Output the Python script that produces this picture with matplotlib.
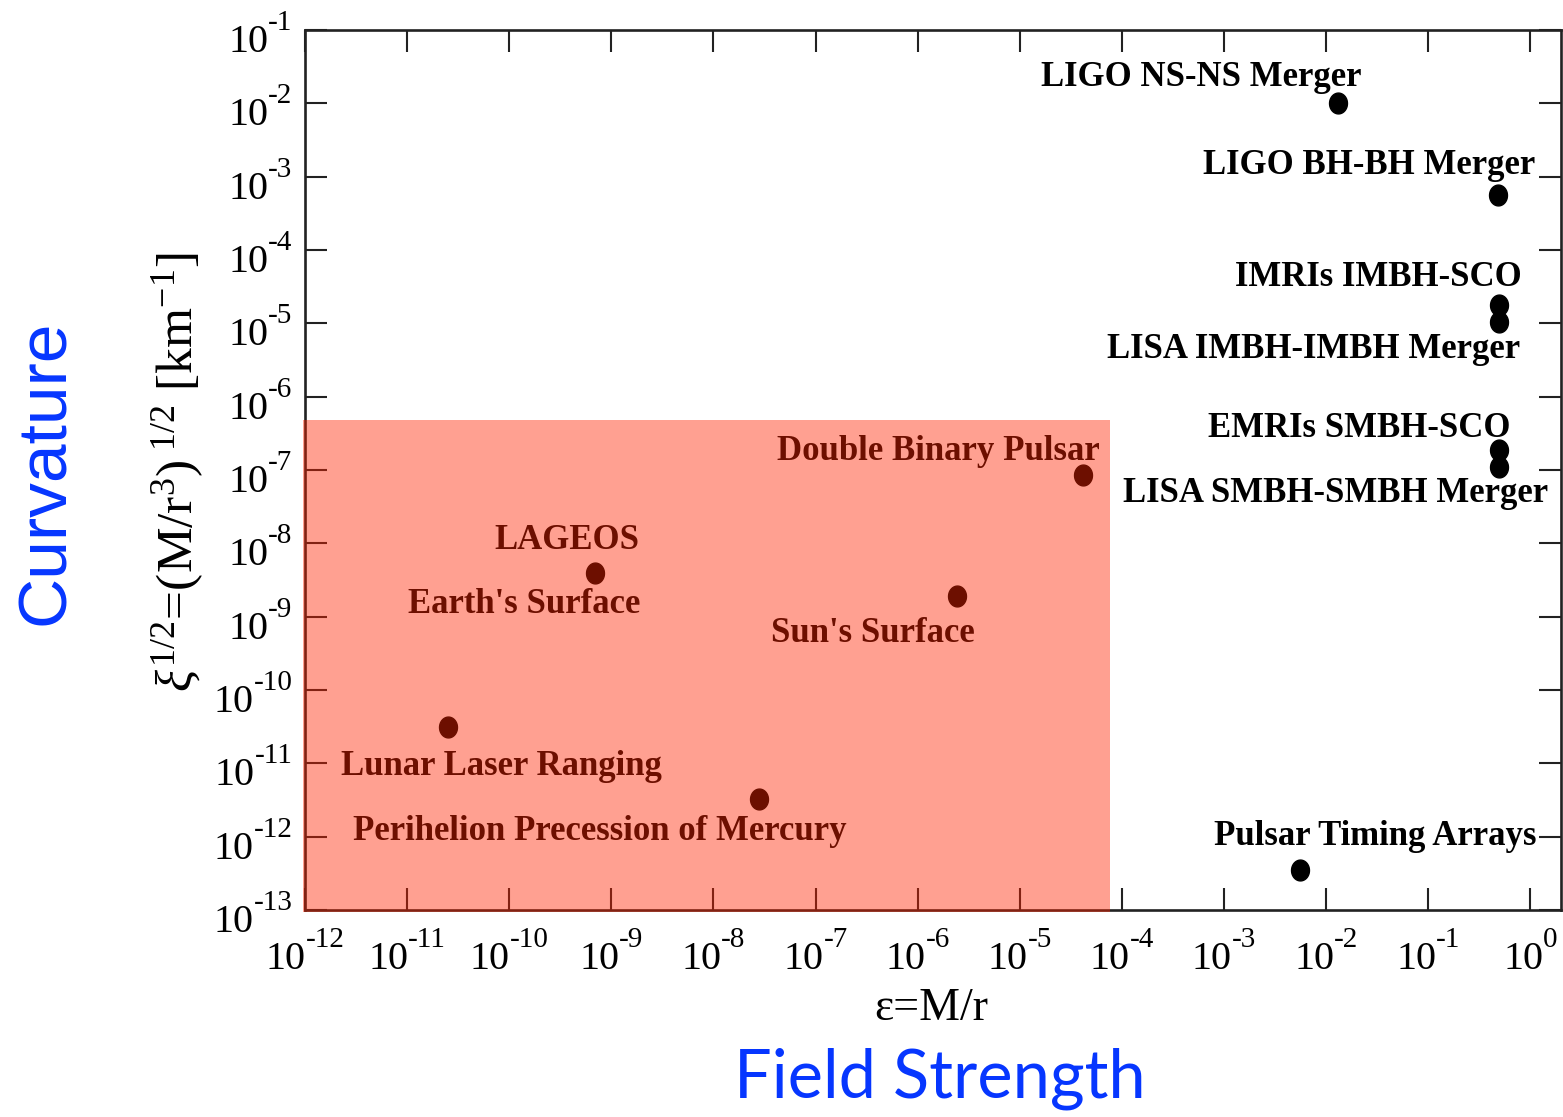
import numpy as np
import matplotlib
matplotlib.use("Agg")
import matplotlib.pyplot as plt
from matplotlib.path import Path
from matplotlib.patches import Rectangle
from matplotlib.ticker import FixedLocator, NullFormatter, NullLocator
from matplotlib.offsetbox import (TextArea, HPacker, VPacker, DrawingArea,
                                  AnnotationBbox)

plt.rcParams["font.family"] = ["Liberation Serif", "DejaVu Serif"]
plt.rcParams["mathtext.fontset"] = "custom"
plt.rcParams["mathtext.rm"] = "Liberation Serif"
plt.rcParams["mathtext.it"] = "Liberation Serif:italic"
plt.rcParams["mathtext.bf"] = "Liberation Serif:bold"

# ---- data -------------------------------------------------------------
systems = [
    "LIGO NS-NS Merger",
    "LIGO BH-BH Merger",
    "IMRIs IMBH-SCO",
    "LISA IMBH-IMBH Merger",
    "EMRIs SMBH-SCO",
    "LISA SMBH-SMBH Merger",
    "Pulsar Timing Arrays",
    "Double Binary Pulsar",
    "LAGEOS",
    "Sun's Surface",
    "Lunar Laser Ranging",
    "Perihelion Precession of Mercury",
]
field_strength = [1.3e-2, 0.48, 0.49, 0.49, 0.49, 0.49,
                  5.6e-3, 4.2e-5, 6.9e-10, 2.4e-6, 2.5e-11, 2.8e-8]
curvature = [1.0e-2, 5.6e-4, 1.8e-5, 1.05e-5, 1.9e-7, 1.1e-7,
             3.5e-13, 8.5e-8, 3.9e-9, 1.9e-9, 3.1e-11, 3.3e-12]
# second caption sharing the LAGEOS point
extra_label = "Earth's Surface"
extra_label_of = "LAGEOS"

# weak-field region explored so far
tested_field_max = 7.65e-5
tested_curv_max = 4.8e-7

x_decades = list(range(-12, 1))
y_decades = list(range(-13, 0))

# ---- layout -----------------------------------------------------------
# caption offsets (pixels) from each point: right edge / baseline
label_offsets = {
    "LIGO NS-NS Merger": (24, 17),
    "LIGO BH-BH Merger": (37, 21),
    "IMRIs IMBH-SCO": (23, 19),
    "LISA IMBH-IMBH Merger": (21, -36),
    "EMRIs SMBH-SCO": (12, 13),
    "LISA SMBH-SMBH Merger": (49, -35),
    "Pulsar Timing Arrays": (236, 25),
    "Double Binary Pulsar": (16, 15),
    "LAGEOS": (44, 24),
    "Sun's Surface": (18, -46),
    "Lunar Laser Ranging": (214, -48),
    "Perihelion Precession of Mercury": (88, -41),
    "Earth's Surface": (45, -40),
}

W, H = 1563, 1117
fig = plt.figure(figsize=(W / 100, H / 100), dpi=100)
ax = fig.add_axes([305 / W, 1 - 910 / H, (1561 - 305) / W, (910 - 30) / H])
ax.set_xscale("log")
ax.set_yscale("log")
ax.set_xlim(1e-12, 10 ** 0.3)
ax.set_ylim(1e-13, 1e-1)

# slightly tall oval marker
t = np.linspace(0, 2 * np.pi, 80)
oval = Path(np.column_stack([0.86 * np.cos(t), np.sin(t)]), closed=True)
ax.plot(field_strength, curvature, linestyle="none", marker=oval,
        markersize=15, color="black", zorder=4)

for name, fx, cy in zip(systems, field_strength, curvature):
    dx, dy = label_offsets[name]
    ax.annotate(name, xy=(fx, cy), xytext=(dx, dy), textcoords="offset pixels",
                ha="right", va="baseline", fontsize=25, fontweight="bold",
                color="black", zorder=5)
i = systems.index(extra_label_of)
dx, dy = label_offsets[extra_label]
ax.annotate(extra_label, xy=(field_strength[i], curvature[i]), xytext=(dx, dy),
            textcoords="offset pixels", ha="right", va="baseline",
            fontsize=25, fontweight="bold", color="black", zorder=5)

# translucent red overlay on the tested region (drawn over everything)
x0 = 10 ** -12.02
y0 = 10 ** -13.03
ax.add_patch(Rectangle((x0, y0), tested_field_max - x0, tested_curv_max - y0,
                       facecolor=(1.0, 0.14, 0.0), alpha=0.43, edgecolor="none",
                       zorder=20, clip_on=False))

# ticks
ax.xaxis.set_major_locator(FixedLocator([10.0 ** k for k in x_decades]))
ax.yaxis.set_major_locator(FixedLocator([10.0 ** k for k in y_decades]))
ax.xaxis.set_minor_locator(NullLocator())
ax.yaxis.set_minor_locator(NullLocator())
ax.xaxis.set_major_formatter(NullFormatter())
ax.yaxis.set_major_formatter(NullFormatter())
ax.tick_params(which="major", direction="in", length=16, width=1.5,
               top=True, right=True, color="#222222")
for s in ax.spines.values():
    s.set_linewidth(1.9)
    s.set_color("#222222")


def power_label(k):
    """'10' with a raised, hyphenated exponent."""
    base = TextArea("10", textprops=dict(fontsize=29, color="black"))
    expo = TextArea(str(k), textprops=dict(fontsize=21, color="black"))
    raised = VPacker(children=[expo, DrawingArea(1, 18)], align="left",
                     pad=0, sep=0)
    return HPacker(children=[base, raised], align="bottom", pad=0, sep=0)


for k in x_decades:
    ab = AnnotationBbox(power_label(k), (10.0 ** k, 0),
                        xycoords=("data", "axes fraction"),
                        xybox=(0, -12), boxcoords="offset points",
                        box_alignment=(0.5, 1.0), frameon=False, pad=0)
    ax.add_artist(ab)
for k in y_decades:
    ab = AnnotationBbox(power_label(k), (0, 10.0 ** k),
                        xycoords=("axes fraction", "data"),
                        xybox=(-9, -4), boxcoords="offset points",
                        box_alignment=(1.0, 0.5), frameon=False, pad=0)
    ax.add_artist(ab)

# axis titles
fig.text(931 / W, 1 - 1020 / H, "\u03b5=M/r", ha="center", va="baseline",
         fontsize=33)
fig.text(192 / W, 1 - 472 / H,
         r"$\xi^{1/2}$=(M/r$^{3}$)$^{\ 1/2}$ [km$^{-1}$]",
         rotation=90, rotation_mode="anchor", ha="center", va="baseline",
         fontsize=37)

blue = "#0636FF"
fig.text(940 / W, 1 - 1097 / H, "Field Strength", ha="center", va="baseline",
         fontsize=48, color=blue, family="Lato")
fig.text(64 / W, 1 - 472 / H, "Curvature", rotation=90, rotation_mode="anchor",
         ha="center", va="baseline", fontsize=50, color=blue,
         family="Liberation Sans")

fig.savefig("out.png", dpi=100)
